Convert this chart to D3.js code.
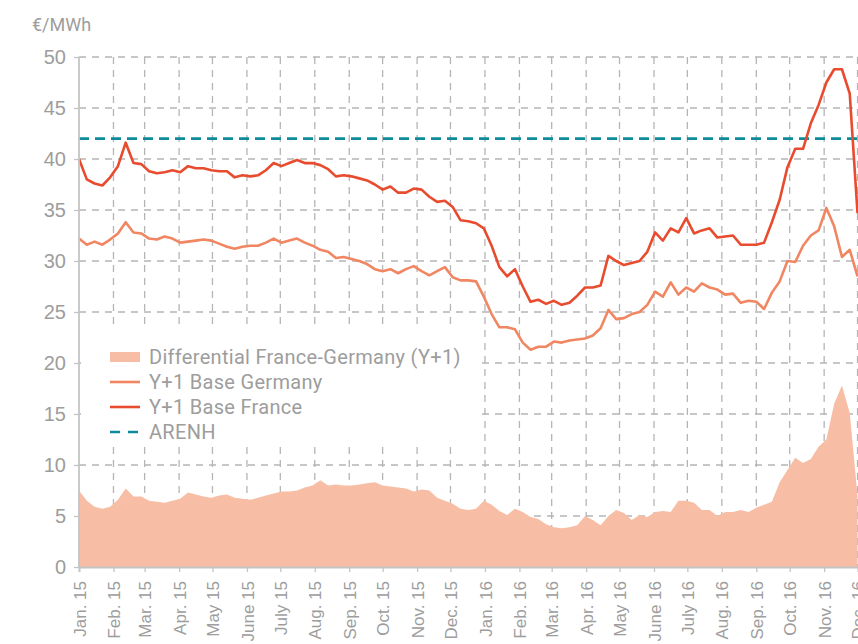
<!DOCTYPE html>
<html>
<head>
<meta charset="utf-8">
<script src="https://cdn.jsdelivr.net/npm/d3@7"></script>
<style>
  html, body { margin: 0; padding: 0; background: #fff; overflow: hidden; }
  svg { display: block; font-family: Roboto, "Noto Sans", sans-serif; }
</style>
</head>
<body>
<div id="chart"></div>
<script>
// weekly samples starting 1 Jan 2015
const startDate = new Date(2015, 0, 1);

const franceY1 = [
  40.0, 38.0, 37.6, 37.4, 38.2, 39.3, 41.6, 39.6, 39.5, 38.8,
  38.6, 38.7, 38.9, 38.7, 39.3, 39.1, 39.1, 38.9, 38.8, 38.8,
  38.2, 38.4, 38.3, 38.4, 38.9, 39.6, 39.3, 39.6, 39.9, 39.6,
  39.6, 39.4, 39.0, 38.3, 38.4, 38.3, 38.1, 37.9, 37.5, 37.0,
  37.3, 36.7, 36.7, 37.1, 37.0, 36.3, 35.8, 35.9, 35.3, 34.0,
  33.9, 33.7, 33.2, 31.5, 29.4, 28.5, 29.2, 27.5, 26.0, 26.2,
  25.8, 26.1, 25.7, 25.9, 26.6, 27.4, 27.4, 27.6, 30.5, 30.0,
  29.6, 29.8, 30.0, 30.9, 32.8, 32.0, 33.2, 32.8, 34.2, 32.7,
  33.0, 33.2, 32.3, 32.4, 32.5, 31.6, 31.6, 31.6, 31.8, 33.8,
  36.0, 39.2, 41.0, 41.0, 43.5, 45.3, 47.5, 48.8, 48.8, 46.4,
  34.7
];

const germanyY1 = [
  32.2, 31.6, 31.9, 31.6, 32.1, 32.7, 33.8, 32.8, 32.7, 32.2,
  32.1, 32.4, 32.2, 31.8, 31.9, 32.0, 32.1, 32.0, 31.7, 31.4,
  31.2, 31.4, 31.5, 31.5, 31.8, 32.2, 31.8, 32.0, 32.2, 31.8,
  31.5, 31.1, 30.9, 30.3, 30.4, 30.2, 30.0, 29.7, 29.2, 29.0,
  29.2, 28.8, 29.2, 29.5, 29.0, 28.6, 29.0, 29.4, 28.4, 28.1,
  28.1, 28.0, 26.5, 24.8, 23.5, 23.5, 23.3, 22.0, 21.3, 21.6,
  21.6, 22.1, 22.0, 22.2, 22.3, 22.4, 22.7, 23.4, 25.2, 24.3,
  24.4, 24.8, 25.0, 25.7, 27.0, 26.5, 27.9, 26.7, 27.4, 27.0,
  27.8, 27.4, 27.2, 26.7, 26.8, 25.9, 26.1, 26.0, 25.3, 26.9,
  28.0, 30.0, 29.9, 31.5, 32.5, 33.0, 35.2, 33.4, 30.4, 31.1,
  28.5
];

const differential = [
  7.5, 6.5, 5.9, 5.7, 5.9, 6.6, 7.7, 6.9, 6.9, 6.5,
  6.4, 6.3, 6.5, 6.7, 7.3, 7.1, 6.9, 6.8, 7.0, 7.1,
  6.8, 6.7, 6.6, 6.8, 7.0, 7.2, 7.4, 7.4, 7.5, 7.8,
  8.0, 8.5, 8.0, 8.1, 8.0, 8.0, 8.1, 8.2, 8.3, 8.0,
  7.9, 7.8, 7.7, 7.4, 7.6, 7.5, 6.8, 6.5, 6.2, 5.7,
  5.6, 5.7, 6.5, 6.1, 5.5, 5.1, 5.7, 5.4, 4.9, 4.7,
  4.2, 3.9, 3.8, 3.9, 4.1, 5.0, 4.6, 4.1, 5.0, 5.6,
  5.3, 4.6, 5.1, 4.9, 5.4, 5.5, 5.4, 6.5, 6.5, 6.3,
  5.6, 5.6, 5.0, 5.4, 5.4, 5.6, 5.4, 5.8, 6.1, 6.4,
  8.3, 9.5, 10.7, 10.2, 10.6, 11.8, 12.5, 16.0, 17.8, 15.1,
  7.0
];

const arenh = 42;
const yTicks = [0, 5, 10, 15, 20, 25, 30, 35, 40, 45, 50];
const monthLabels = ['Jan.', 'Feb.', 'Mar.', 'Apr.', 'May', 'June', 'July', 'Aug.', 'Sep.', 'Oct.', 'Nov.', 'Dec.'];
const legendLabels = ['Differential France-Germany (Y+1)', 'Y+1 Base Germany', 'Y+1 Base France', 'ARENH'];

const colors = {
  france: '#e84b2e',
  germany: '#f08662',
  diff: '#f7bea5',
  arenh: '#0f8a9c',
  grid: '#b5b5b5',
  axis: '#c4c4c4',
  text: '#9d9d9d'
};

const width = 858, height = 644;
const dates = franceY1.map((_, i) => d3.timeDay.offset(startDate, 7 * i));
const rows = dates.map((d, i) => ({ date: d, fr: franceY1[i], de: germanyY1[i], diff: differential[i] }));

// chart is wider than the window; the right end gets cut like in the original
const x = d3.scaleTime()
  .domain([new Date(2015, 0, 1), new Date(2017, 0, 1)])
  .range([79, 892]);
const y = d3.scaleLinear().domain([0, 50]).range([567, 57]);

const svg = d3.select('#chart').append('svg')
  .attr('width', width)
  .attr('height', height);

// unit label
svg.append('text')
  .attr('x', 32).attr('y', 31)
  .attr('fill', colors.text)
  .style('font-size', '18px')
  .text('€/MWh');

// grid
const months = d3.timeMonth.range(new Date(2015, 1, 1), new Date(2017, 0, 1));
const grid = svg.append('g');
grid.selectAll('line.v')
  .data(months)
  .join('line')
  .attr('x1', d => x(d)).attr('x2', d => x(d))
  .attr('y1', y(50)).attr('y2', y(0))
  .attr('stroke', colors.grid)
  .attr('stroke-width', 1.3)
  .attr('stroke-dasharray', '7,6');
grid.selectAll('line.h')
  .data(yTicks.filter(v => v > 0))
  .join('line')
  .attr('x1', x.range()[0]).attr('x2', width)
  .attr('y1', d => y(d)).attr('y2', d => y(d))
  .attr('stroke', colors.grid)
  .attr('stroke-width', 1.3)
  .attr('stroke-dasharray', '7,6');

// legend backdrop hides the grid behind it
svg.append('rect')
  .attr('x', 81).attr('y', 327)
  .attr('width', 397).attr('height', 119)
  .attr('fill', '#fff');

// differential area
svg.append('path')
  .datum(rows)
  .attr('fill', colors.diff)
  .attr('d', d3.area().x(d => x(d.date)).y0(y(0)).y1(d => y(d.diff)));

// ARENH
svg.append('line')
  .attr('x1', x.range()[0]).attr('x2', width)
  .attr('y1', y(arenh)).attr('y2', y(arenh))
  .attr('stroke', colors.arenh)
  .attr('stroke-width', 2.6)
  .attr('stroke-dasharray', '10,6');

const line = key => d3.line().x(d => x(d.date)).y(d => y(d[key]));

svg.append('path')
  .datum(rows)
  .attr('fill', 'none')
  .attr('stroke', colors.germany)
  .attr('stroke-width', 2.6)
  .attr('stroke-linejoin', 'round')
  .attr('d', line('de'));

svg.append('path')
  .datum(rows)
  .attr('fill', 'none')
  .attr('stroke', colors.france)
  .attr('stroke-width', 2.6)
  .attr('stroke-linejoin', 'round')
  .attr('d', line('fr'));

// axes
const yAxis = svg.append('g')
  .attr('transform', `translate(${x.range()[0]},0)`)
  .call(d3.axisLeft(y).tickValues(yTicks).tickSize(5).tickPadding(8));
yAxis.select('.domain').remove();
yAxis.selectAll('line').attr('stroke', colors.axis).attr('stroke-width', 1.3);
yAxis.selectAll('text').attr('fill', colors.text).style('font-size', '20px').attr('font-family', null);

svg.append('line')
  .attr('x1', x.range()[0]).attr('x2', x.range()[0])
  .attr('y1', y(50)).attr('y2', y(0))
  .attr('stroke', colors.axis).attr('stroke-width', 1.8);

const xAxis = svg.append('g')
  .attr('transform', `translate(0,${y(0)})`)
  .call(d3.axisBottom(x)
    .ticks(d3.timeMonth.every(1))
    .tickSize(5)
    .tickFormat(d => monthLabels[d.getMonth()] + ' ' + String(d.getFullYear()).slice(2)));
xAxis.select('.domain').attr('stroke', colors.axis).attr('stroke-width', 1.8);
xAxis.selectAll('line').attr('stroke', colors.axis).attr('stroke-width', 1.3);
xAxis.selectAll('text')
  .attr('fill', colors.text)
  .attr('font-family', null)
  .style('font-size', '17px')
  .attr('text-anchor', 'end')
  .attr('transform', 'rotate(-90)')
  .attr('x', -14)
  .attr('y', 0)
  .attr('dy', '0.36em');

// legend
const legend = svg.append('g').attr('transform', 'translate(110,357)');
const lg = legend.selectAll('g')
  .data(legendLabels)
  .join('g')
  .attr('transform', (d, i) => `translate(0,${i * 25})`);

lg.filter((d, i) => i === 0).append('rect')
  .attr('x', 0).attr('y', -5).attr('width', 30).attr('height', 10)
  .attr('fill', colors.diff);
lg.filter((d, i) => i === 1).append('line')
  .attr('x1', 0).attr('x2', 30)
  .attr('stroke', colors.germany).attr('stroke-width', 2.6);
lg.filter((d, i) => i === 2).append('line')
  .attr('x1', 0).attr('x2', 30)
  .attr('stroke', colors.france).attr('stroke-width', 2.6);
lg.filter((d, i) => i === 3).append('line')
  .attr('x1', 0).attr('x2', 30)
  .attr('stroke', colors.arenh).attr('stroke-width', 2.6)
  .attr('stroke-dasharray', '10,8');

lg.append('text')
  .attr('x', 39)
  .attr('dy', '0.36em')
  .attr('fill', colors.text)
  .style('font-size', '20px')
  .style('letter-spacing', '0.3px')
  .text(d => d);
</script>
</body>
</html>
